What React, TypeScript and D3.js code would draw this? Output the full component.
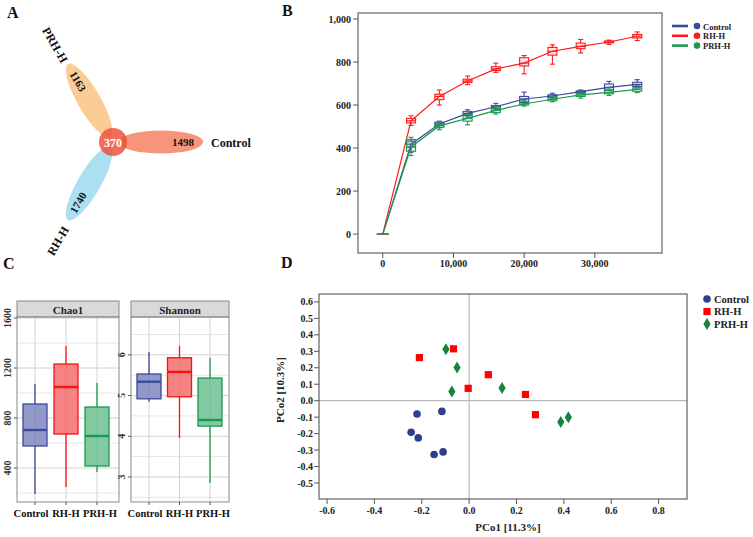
import React from "react";
import * as d3 from "d3";

const FONT = "'Liberation Serif', 'Times New Roman', serif";

// ---------- Panel A (Venn) ----------
const vennSets = ["Control", "PRH-H", "RH-H"];
const vennUnique = [1498, 1163, 1740];
const vennShared = 370;
const vennAngles = [0, -120, 120];
const vennColors = ["#F5896B", "#FBC68A", "#A3DCF1"];

// ---------- Panel B (rarefaction) ----------
const groups = ["Control", "RH-H", "PRH-H"];
const depths = [0, 4000, 8000, 12000, 16000, 20000, 24000, 28000, 32000, 36000];
// [min, q1, median, q3, max]
const rareControl: number[][] = [
  [0, 0, 0, 0, 0], [380, 405, 418, 432, 440], [495, 505, 512, 520, 525], [545, 552, 561, 570, 578],
  [578, 585, 592, 598, 608], [605, 612, 628, 640, 660], [632, 636, 642, 648, 655],
  [655, 658, 662, 666, 670], [668, 670, 682, 698, 710], [680, 686, 696, 706, 718],
];
const rareRH: number[][] = [
  [0, 0, 0, 0, 0], [505, 517, 527, 538, 550], [600, 625, 640, 650, 670], [695, 705, 712, 720, 735],
  [752, 760, 768, 778, 795], [745, 782, 795, 820, 830], [790, 832, 850, 868, 880],
  [842, 862, 873, 888, 905], [882, 889, 893, 898, 902], [900, 912, 920, 928, 940],
];
const rarePRH: number[][] = [
  [0, 0, 0, 0, 0], [365, 385, 405, 440, 450], [485, 495, 503, 512, 522], [508, 525, 538, 555, 570],
  [558, 565, 575, 585, 595], [595, 600, 605, 615, 620], [615, 620, 627, 635, 640],
  [632, 640, 647, 654, 660], [645, 652, 659, 668, 680], [658, 664, 673, 680, 690],
];
const bXTicks = [0, 10000, 20000, 30000];
const bYTicks = [0, 200, 400, 600, 800, 1000];

// ---------- Panel C (alpha diversity boxplots) ----------
const chao1Box: number[][] = [
  [192, 576, 704, 912, 1072],
  [248, 672, 1048, 1232, 1376],
  [368, 416, 656, 888, 1080],
];
const shannonBox: number[][] = [
  [4.85, 4.92, 5.34, 5.53, 6.07],
  [3.96, 4.97, 5.58, 5.93, 6.22],
  [2.85, 4.25, 4.4, 5.43, 5.93],
];
const chaoMajor = [400, 800, 1200, 1600];
const chaoMinor = [200, 600, 1000, 1400];
const shanMajor = [3, 4, 5, 6];
const shanMinor = [2.5, 3.5, 4.5, 5.5, 6.5];

// ---------- Panel D (PCoA) ----------
const pcoControl: [number, number][] = [
  [-0.22, -0.081], [-0.115, -0.065], [-0.245, -0.192], [-0.215, -0.226], [-0.148, -0.327], [-0.11, -0.311],
];
const pcoRH: [number, number][] = [
  [-0.21, 0.262], [-0.066, 0.315], [-0.004, 0.075], [0.081, 0.158], [0.238, 0.038], [0.28, -0.085],
];
const pcoPRH: [number, number][] = [
  [-0.098, 0.313], [-0.051, 0.202], [-0.073, 0.056], [0.139, 0.077], [0.387, -0.129], [0.419, -0.101],
];
const dXTicks = [-0.6, -0.4, -0.2, 0, 0.2, 0.4, 0.6, 0.8];
const dYTicks = [-0.5, -0.4, -0.3, -0.2, -0.1, 0, 0.1, 0.2, 0.3, 0.4, 0.5, 0.6];

const lineColors = ["#3A4A9E", "#FF1A1A", "#1E9A50"];
const boxStroke = ["#3B4A9A", "#FF1010", "#169A4E"];
const boxFill = ["#8C93C5", "#F57C7C", "#7CC69C"];
const pcoColors = ["#2E3D8F", "#FF0000", "#13853A"];
const labelNudge = [-4, 0, 3];

function PanelLabel({ x, y, t }: { x: number; y: number; t: string }) {
  return (
    <text x={x} y={y} fontFamily={FONT} fontWeight="bold" fontSize={16} fill="#111">
      {t}
    </text>
  );
}

function Venn() {
  const cx = 113, cy = 142;
  const rad = (a: number) => (a * Math.PI) / 180;
  return (
    <g>
      {vennSets.map((s, i) => {
        const a = vennAngles[i];
        const ex = cx + 48 * Math.cos(rad(a));
        const ey = cy + 48 * Math.sin(rad(a));
        return (
          <ellipse key={s} cx={ex} cy={ey} rx={42} ry={11.5} fill={vennColors[i]} opacity={0.9}
            transform={`rotate(${a},${ex},${ey})`} />
        );
      })}
      <circle cx={cx} cy={cy} r={14} fill="#EC4F33" opacity={0.82} />
      {vennSets.map((s, i) => {
        const a = vennAngles[i];
        const nx = cx + 70 * Math.cos(rad(a));
        const ny = cy + 70 * Math.sin(rad(a));
        const rot = i === 0 ? 0 : i === 1 ? 60 : -60;
        return (
          <text key={s + "n"} x={nx} y={ny} transform={`rotate(${rot},${nx},${ny})`} textAnchor="middle"
            dominantBaseline="central" fontFamily={FONT} fontWeight="bold" fontSize={11} fill="#111">
            {vennUnique[i]}
          </text>
        );
      })}
      <text x={cx} y={cy + 1} textAnchor="middle" dominantBaseline="central" fontFamily={FONT}
        fontWeight="bold" fontSize={12} fill="#fff">
        {vennShared}
      </text>
      <text x={211} y={143} dominantBaseline="central" fontFamily={FONT} fontWeight="bold" fontSize={12} fill="#111">
        {vennSets[0]}
      </text>
      <text x={55} y={45} transform="rotate(60,55,45)" textAnchor="middle" dominantBaseline="central"
        fontFamily={FONT} fontWeight="bold" fontSize={12} fill="#111">
        {vennSets[1]}
      </text>
      <text x={58} y={241} transform="rotate(-60,58,241)" textAnchor="middle" dominantBaseline="central"
        fontFamily={FONT} fontWeight="bold" fontSize={12} fill="#111">
        {vennSets[2]}
      </text>
    </g>
  );
}

function Rarefaction() {
  const x = d3.scaleLinear().domain([-3500, 39500]).range([358, 662]);
  const y = d3.scaleLinear().domain([-88, 1028]).range([253, 13]);
  const series = [rareControl, rareRH, rarePRH];
  const line = d3.line<number[]>().x((_, i) => x(depths[i])).y((d) => y(d[2]));
  const bw = 9;
  const fmt = d3.format(",");
  return (
    <g>
      <rect x={358} y={13} width={304} height={240} fill="none" stroke="#7A7A7A" strokeWidth={1.4} />
      {bYTicks.map((t) => (
        <g key={"by" + t}>
          <line x1={353} x2={358} y1={y(t)} y2={y(t)} stroke="#555" />
          <text x={351} y={y(t)} textAnchor="end" dominantBaseline="central" fontFamily={FONT}
            fontWeight="bold" fontSize={10} fill="#222">{fmt(t)}</text>
        </g>
      ))}
      {bXTicks.map((t) => (
        <g key={"bx" + t}>
          <line x1={x(t)} x2={x(t)} y1={253} y2={258} stroke="#555" />
          <text x={x(t)} y={267} textAnchor="middle" fontFamily={FONT} fontWeight="bold" fontSize={10}
            fill="#222">{fmt(t)}</text>
        </g>
      ))}
      {series.map((s, si) => (
        <g key={"s" + si}>
          <path d={line(s) || ""} fill="none" stroke={lineColors[si]} strokeWidth={1.2} />
          {s.map((b, i) => {
            const cx = x(depths[i]);
            if (i === 0) {
              return <line key={i} x1={cx - 6} x2={cx + 6} y1={y(0)} y2={y(0)} stroke={lineColors[si]} strokeWidth={1.2} />;
            }
            return (
              <g key={i} stroke={lineColors[si]} strokeWidth={1.1}>
                <line x1={cx} x2={cx} y1={y(b[0])} y2={y(b[1])} />
                <line x1={cx} x2={cx} y1={y(b[3])} y2={y(b[4])} />
                <line x1={cx - 2.5} x2={cx + 2.5} y1={y(b[0])} y2={y(b[0])} />
                <line x1={cx - 2.5} x2={cx + 2.5} y1={y(b[4])} y2={y(b[4])} />
                <rect x={cx - bw / 2} y={y(b[3])} width={bw} height={y(b[1]) - y(b[3])}
                  fill={lineColors[si]} fillOpacity={0.12} />
                <line x1={cx - bw / 2} x2={cx + bw / 2} y1={y(b[2])} y2={y(b[2])} />
              </g>
            );
          })}
        </g>
      ))}
      {groups.map((g, i) => (
        <g key={"lg" + g}>
          <line x1={672} x2={688} y1={26 + i * 9.8} y2={26 + i * 9.8} stroke={lineColors[i]} strokeWidth={2.6} />
          <circle cx={697} cy={26 + i * 9.8} r={3.3} fill={lineColors[i]} />
          <text x={703} y={26.5 + i * 9.8} dominantBaseline="central" fontFamily={FONT} fontWeight="bold"
            fontSize={8.5} fill="#222">{g}</text>
        </g>
      ))}
    </g>
  );
}

function Facet({ left, right, title, data, y, major, minor, centers, fmt }: {
  left: number; right: number; title: string; data: number[][]; y: d3.ScaleLinear<number, number>;
  major: number[]; minor: number[]; centers: [number, number]; fmt: (v: number) => string;
}) {
  const top = 317, bottom = 502;
  const xs = d3.scalePoint<string>().domain(groups).range(centers);
  const bw = 24;
  const inRange = (v: number) => y(v) >= top && y(v) <= bottom;
  return (
    <g>
      <rect x={left} y={301} width={right - left} height={16} fill="#D9D9D9" stroke="#8A8A8A" strokeWidth={1} />
      <text x={(left + right) / 2} y={309.5} textAnchor="middle" dominantBaseline="central" fontFamily={FONT}
        fontWeight="bold" fontSize={11} fill="#222">{title}</text>
      {minor.filter(inRange).map((t) => (
        <line key={"mi" + t} x1={left} x2={right} y1={y(t)} y2={y(t)} stroke="#E6E6E6" />
      ))}
      {major.filter(inRange).map((t) => (
        <line key={"ma" + t} x1={left} x2={right} y1={y(t)} y2={y(t)} stroke="#D2D2D2" />
      ))}
      {groups.map((g) => (
        <line key={"v" + g} x1={xs(g)} x2={xs(g)} y1={top} y2={bottom} stroke="#D2D2D2" />
      ))}
      {data.map((b, i) => {
        const cx = xs(groups[i]) as number;
        return (
          <g key={i}>
            <line x1={cx} x2={cx} y1={y(b[0])} y2={y(b[4])} stroke={boxStroke[i]} strokeWidth={1.3} />
            <rect x={cx - bw / 2} y={y(b[3])} width={bw} height={y(b[1]) - y(b[3])} fill={boxFill[i]}
              fillOpacity={0.95} stroke={boxStroke[i]} strokeWidth={1.3} />
            <line x1={cx - bw / 2} x2={cx + bw / 2} y1={y(b[2])} y2={y(b[2])} stroke={boxStroke[i]} strokeWidth={2.4} />
          </g>
        );
      })}
      <rect x={left} y={top} width={right - left} height={bottom - top} fill="none" stroke="#8A8A8A" strokeWidth={1} />
      {major.filter(inRange).map((t) => (
        <g key={"yt" + t}>
          <line x1={left - 3} x2={left} y1={y(t)} y2={y(t)} stroke="#555" />
          <text x={left - 6} y={y(t)} transform={`rotate(-90,${left - 6},${y(t)})`} textAnchor="middle"
            fontFamily={FONT} fontWeight="bold" fontSize={10} fill="#333">{fmt(t)}</text>
        </g>
      ))}
      {groups.map((g, i) => (
        <g key={"xt" + g}>
          <line x1={xs(g)} x2={xs(g)} y1={bottom} y2={bottom + 3} stroke="#555" />
          <text x={(xs(g) as number) + labelNudge[i]} y={517} textAnchor="middle" fontFamily={FONT}
            fontWeight="bold" fontSize={10.5} fill="#111">{g}</text>
        </g>
      ))}
    </g>
  );
}

function Alpha() {
  const yChao = d3.scaleLinear().domain([128, 1608]).range([502, 317]);
  const yShan = d3.scaleLinear().domain([2.385, 6.93]).range([502, 317]);
  return (
    <g>
      <Facet left={17} right={119} title="Chao1" data={chao1Box} y={yChao} major={chaoMajor} minor={chaoMinor}
        centers={[35, 97]} fmt={(v) => String(v)} />
      <Facet left={131} right={229} title="Shannon" data={shannonBox} y={yShan} major={shanMajor}
        minor={shanMinor} centers={[149, 210]} fmt={(v) => String(v)} />
    </g>
  );
}

function PCoA() {
  const x = d3.scaleLinear().domain([-0.634, 0.92]).range([319, 687]);
  const y = d3.scaleLinear().domain([-0.597, 0.648]).range([499, 294]);
  const f = (v: number) => (Math.abs(v) < 1e-9 ? "0.0" : v.toFixed(1));
  const circle = (cx: number, cy: number, c: string, k: string) => <circle key={k} cx={cx} cy={cy} r={3.8} fill={c} />;
  const square = (cx: number, cy: number, c: string, k: string) => (
    <rect key={k} x={cx - 3.6} y={cy - 3.6} width={7.2} height={7.2} fill={c} />
  );
  const diamond = (cx: number, cy: number, c: string, k: string) => (
    <g key={k}>
      <path d={`M${cx},${cy - 6}L${cx + 3.6},${cy}L${cx},${cy + 6}L${cx - 3.6},${cy}Z`} fill={c} />
    </g>
  );
  const shapes = [circle, square, diamond];
  const sets = [pcoControl, pcoRH, pcoPRH];
  return (
    <g>
      <line x1={x(0)} x2={x(0)} y1={294} y2={499} stroke="#BDBDBD" strokeWidth={1.2} />
      <line x1={319} x2={687} y1={y(0)} y2={y(0)} stroke="#A8A8A8" strokeWidth={1} />
      <rect x={319} y={294} width={368} height={205} fill="none" stroke="#6E6E6E" strokeWidth={1.3} />
      {dYTicks.map((t) => (
        <g key={"dy" + t}>
          <line x1={314} x2={319} y1={y(t)} y2={y(t)} stroke="#555" />
          <text x={313} y={y(t)} textAnchor="end" dominantBaseline="central" fontFamily={FONT} fontWeight="bold"
            fontSize={10} fill="#222">{f(t)}</text>
        </g>
      ))}
      {dXTicks.map((t) => (
        <g key={"dx" + t}>
          <line x1={x(t)} x2={x(t)} y1={499} y2={504} stroke="#555" />
          <text x={x(t)} y={514} textAnchor="middle" fontFamily={FONT} fontWeight="bold" fontSize={10}
            fill="#222">{f(t)}</text>
        </g>
      ))}
      <text x={508} y={531} textAnchor="middle" fontFamily={FONT} fontWeight="bold" fontSize={11} fill="#222">
        PCo1 [11.3%]
      </text>
      <text x={280} y={390} transform="rotate(-90,280,390)" textAnchor="middle" dominantBaseline="central"
        fontFamily={FONT} fontWeight="bold" fontSize={11} fill="#222">PCo2 [10.3%]</text>
      {sets.map((s, si) => s.map((p, i) => shapes[si](x(p[0]), y(p[1]), pcoColors[si], `p${si}-${i}`)))}
      {groups.map((g, i) => (
        <g key={"dl" + g}>
          {shapes[i](707, 299 + i * 12.5, pcoColors[i], "l" + i)}
          <text x={714} y={299 + i * 12.5} dominantBaseline="central" fontFamily={FONT} fontWeight="bold"
            fontSize={10.5} fill="#222">{g}</text>
        </g>
      ))}
    </g>
  );
}

export default function App() {
  return (
    <svg width={753} height={537} style={{ position: "absolute", left: 0, top: 0, background: "#fff" }}>
      <rect width={753} height={537} fill="#fff" />
      <PanelLabel x={7} y={18} t="A" />
      <PanelLabel x={282} y={16} t="B" />
      <PanelLabel x={3} y={269} t="C" />
      <PanelLabel x={281} y={268} t="D" />
      <Venn />
      <Rarefaction />
      <Alpha />
      <PCoA />
    </svg>
  );
}
